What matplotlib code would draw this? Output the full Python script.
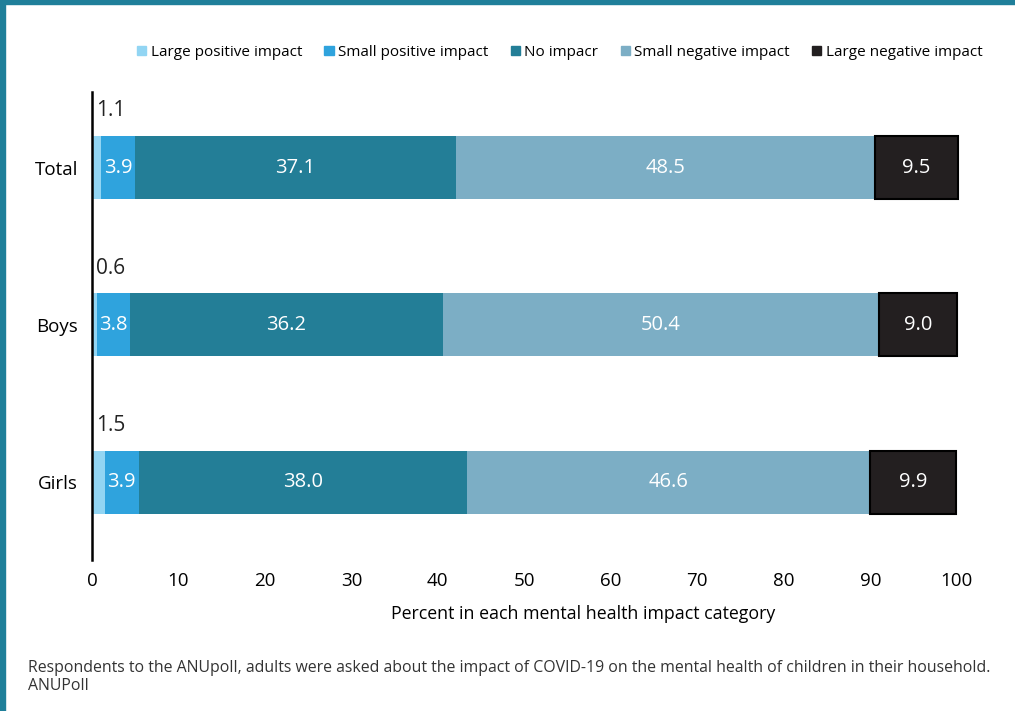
import matplotlib.pyplot as plt
from matplotlib.patches import Rectangle, Patch

plt.rcParams['font.family'] = ['Open Sans', 'DejaVu Sans']

groups = ["Total", "Boys", "Girls"]
categories = ["Large positive impact", "Small positive impact", "No impacr",
              "Small negative impact", "Large negative impact"]
large_pos = [1.1, 0.6, 1.5]
small_pos = [3.9, 3.8, 3.9]
no_impact = [37.1, 36.2, 38.0]
small_neg = [48.5, 50.4, 46.6]
large_neg = [9.5, 9.0, 9.9]

colors = ["#92d5f3", "#2fa3dd", "#237e97", "#7caec5", "#231f20"]
series = [large_pos, small_pos, no_impact, small_neg, large_neg]

fig = plt.figure(figsize=(10.15, 7.11), dpi=100)
ax = fig.add_axes([0.0906, 0.2124, 0.852, 0.6582])

ypos = [2, 1, 0]
h = 0.4
left = [0.0, 0.0, 0.0]
for i, vals in enumerate(series):
    if i == 4:
        ax.barh(ypos, vals, left=left, height=h, color=colors[i], edgecolor="black",
                linewidth=1.5, clip_on=False)
    else:
        ax.barh(ypos, vals, left=left, height=h, color=colors[i], clip_on=False)
    for j, v in enumerate(vals):
        if i == 0:
            ax.text(left[j] + 0.5, ypos[j] + h / 2 + 0.16, f"{v:.1f}", ha="left",
                    va="center", fontsize=15, color="#222222")
        else:
            ax.text(left[j] + v / 2, ypos[j], f"{v:.1f}", ha="center", va="center",
                    fontsize=14.5, color="white")
    left = [a + b for a, b in zip(left, vals)]

ax.set_xlim(0, 100)
ax.set_ylim(-0.495, 2.48)
ax.set_yticks(ypos)
ax.set_yticklabels(groups, fontsize=13.5)
ax.set_xticks(range(0, 101, 10))
ax.tick_params(axis="x", labelsize=13.5, length=0, pad=9)
ax.tick_params(axis="y", length=0, pad=10)
for s in ["top", "right", "bottom"]:
    ax.spines[s].set_visible(False)
ax.spines["left"].set_linewidth(1.8)
ax.set_xlabel("Percent in each mental health impact category", fontsize=12.8)
ax.xaxis.set_label_coords(0.568, -0.097)

handles = [Patch(color=c) for c in colors]
ax.legend(handles, categories, loc="upper center", bbox_to_anchor=(0.541, 1.13), ncol=5,
          frameon=False, fontsize=11, handlelength=0.6, handleheight=0.6,
          handletextpad=0.3, columnspacing=1.45)

fig.text(0.028, 0.048, "Respondents to the ANUpoll, adults were asked about the impact of "
         "COVID-19 on the mental health of children in their household.\nANUPoll",
         fontsize=11.4, color="#333333", va="center", ha="left", linespacing=1.2)

# teal border on top and left
fig.patches.append(Rectangle((0, 0), 0.005, 1, transform=fig.transFigure,
                             color="#1f7f9a", zorder=10))
fig.patches.append(Rectangle((0, 1 - 0.0056), 1, 0.0056, transform=fig.transFigure,
                             color="#1f7f9a", zorder=10))

fig.savefig("out.png", dpi=100)
